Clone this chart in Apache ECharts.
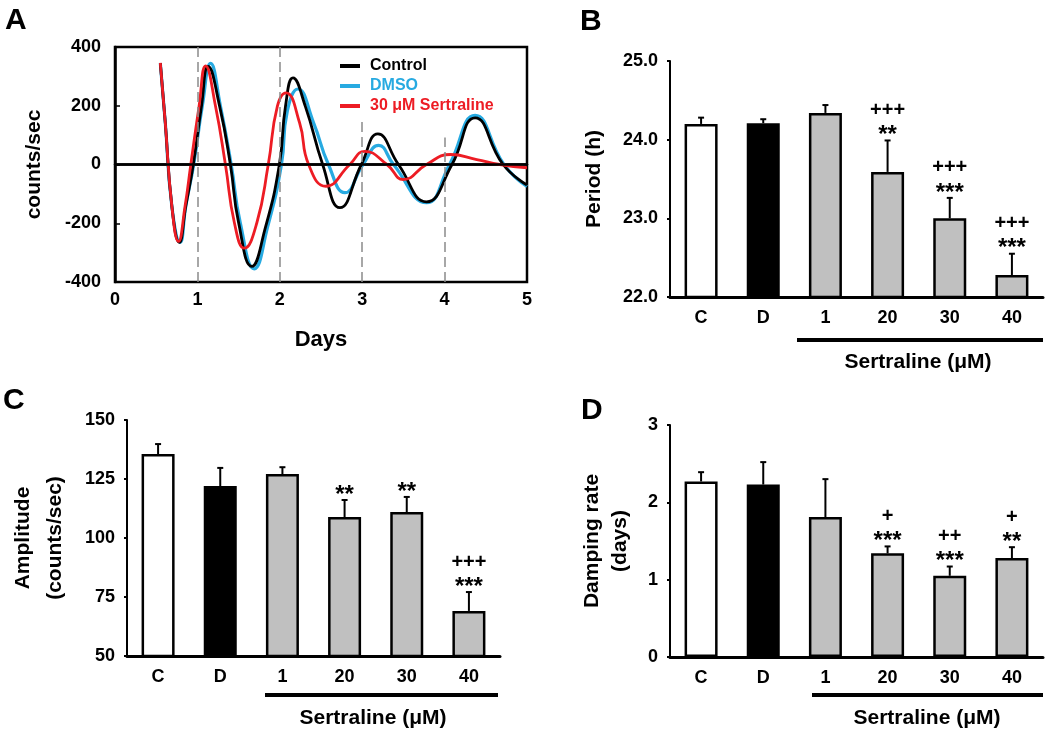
<!DOCTYPE html>
<html>
<head>
<meta charset="utf-8">
<script src="https://cdn.jsdelivr.net/npm/echarts@6/dist/echarts.min.js"></script>
<style>
html,body{margin:0;padding:0;background:#fff;}
#c{width:1050px;height:733px;}
</style>
</head>
<body>
<div id="c"></div>
<script>
// ---------- Panel A data (day, counts/sec) ----------
const ctrlData = [[0.55,345],[0.61,143],[0.69,-142],[0.78,-265],[0.86,-140],[0.95,0],[1.05,200],[1.13,334],[1.27,198],[1.40,0],[1.50,-198],[1.66,-347],[1.82,-220],[1.995,0],[2.07,200],[2.16,295],[2.31,198],[2.52,0],[2.73,-147],[2.99,0],[3.19,104],[3.44,0],[3.78,-127],[4.09,0],[4.37,159],[4.71,0],[5.0,-70]];
const dmsoData = [[0.55,345],[0.61,143],[0.69,-142],[0.79,-265],[0.86,-140],[0.955,0],[1.06,200],[1.16,344],[1.28,198],[1.41,0],[1.52,-198],[1.69,-355],[1.85,-215],[2.02,0],[2.09,180],[2.22,257],[2.41,142],[2.59,0],[2.79,-96],[3.01,0],[3.20,65],[3.38,0],[3.78,-130],[4.06,0],[4.37,167],[4.72,0],[5.0,-75]];
const sertData = [[0.55,346],[0.61,143],[0.69,-142],[0.77,-262],[0.85,-142],[0.92,0],[1.02,198],[1.10,336],[1.22,198],[1.34,0],[1.45,-200],[1.57,-285],[1.72,-200],[1.86,0],[1.97,198],[2.075,244],[2.24,142],[2.35,0],[2.56,-74],[2.85,0],[3.03,45],[3.30,0],[3.50,-51],[3.78,0],[4.07,34],[4.39,17],[4.67,0],[5.0,-11]];
const seriesNames = ['Control','DMSO','30 \u03bcM Sertraline'];
const dashDays = [1,2,3,4];
const dashTops = [400,400,146,92];

// ---------- Bar panels ----------
const barCats = ['C','D','1','20','30','40'];
const periodMean = [24.20,24.21,24.34,23.59,23.00,22.28];
const periodErr  = [0.08,0.05,0.10,0.40,0.26,0.27];
const periodStar = ['','','','**','***','***'];
const periodPlus = ['','','','+++','+++','+++'];

const ampMean = [135.6,122.0,127.1,108.9,111.0,69.1];
const ampErr  = [4.2,7.7,2.9,7.2,6.4,8.0];
const ampStar = ['','','','**','**','***'];
const ampPlus = ['','','','','','+++'];

const dampMean = [2.27,2.23,1.81,1.34,1.05,1.28];
const dampErr  = [0.12,0.29,0.49,0.09,0.12,0.14];
const dampStar = ['','','','***','***','**'];
const dampPlus = ['','','','+','++','+'];

const FONT = '"Liberation Sans", Arial, Helvetica, sans-serif';
const barFill = ['#ffffff','#000000','#c0c0c0','#c0c0c0','#c0c0c0','#c0c0c0'];

const chart = echarts.init(document.getElementById('c'), null, {renderer:'canvas'});

function barData(means){
  return means.map((m,i)=>({value:m, itemStyle:{color:barFill[i]}}));
}
function errData(means, errs){
  return means.map((m,i)=>[i, m, m+errs[i]]);
}
function errRender(stars, pluses){
  return function(params, api){
    const idx = params.dataIndex;
    const i = api.value(0);
    const base = api.coord([i, api.value(1)]);
    const top = api.coord([i, api.value(2)]);
    const x = base[0];
    const ch = [
      {type:'line', shape:{x1:x,y1:base[1],x2:x,y2:top[1]}, style:{stroke:'#000',lineWidth:2}},
      {type:'line', shape:{x1:x-3,y1:top[1],x2:x+3,y2:top[1]}, style:{stroke:'#000',lineWidth:2}}
    ];
    if (stars[idx]) ch.push({type:'text', x:x, y:top[1]-5, style:{text:stars[idx], font:'bold 24px '+FONT, fill:'#000', align:'center', verticalAlign:'middle'}});
    if (pluses[idx]) ch.push({type:'text', x:x, y:top[1]-30, style:{text:pluses[idx], font:'bold 20px '+FONT, fill:'#000', align:'center', verticalAlign:'middle'}});
    return {type:'group', children:ch};
  };
}

const tickLabel = {color:'#000', fontSize:18, fontWeight:'bold', fontFamily:FONT};

function catAxis(gi){
  return {type:'category', gridIndex:gi, data:barCats,
    axisLine:{lineStyle:{color:'#000',width:3}}, axisTick:{show:false},
    axisLabel:Object.assign({margin:12}, tickLabel), splitLine:{show:false}};
}
function valAxis(gi, min, max, interval, name, gap, lh, fmt){
  return {type:'value', gridIndex:gi, min:min, max:max, interval:interval,
    name:name, nameLocation:'middle', nameRotate:90, nameGap:gap,
    nameTextStyle:{color:'#000', fontSize:21, fontWeight:'bold', fontFamily:FONT, lineHeight:lh},
    axisLine:{show:true, lineStyle:{color:'#000',width:2}},
    axisTick:{show:true, length:3, lineStyle:{color:'#000',width:2}},
    axisLabel:Object.assign({margin:12, formatter:fmt}, tickLabel),
    splitLine:{show:false}};
}

const lineCommon = {type:'line', xAxisIndex:0, yAxisIndex:0, showSymbol:false, symbol:'none', smooth:0.5};

const option = {
  animation:false,
  backgroundColor:'#fff',
  legend:{
    left:335, top:52, orient:'vertical', itemWidth:20, itemHeight:4, itemGap:2, icon:'rect',
    data:[
      {name:seriesNames[0], textStyle:{color:'#000'}},
      {name:seriesNames[1], textStyle:{color:'#27aae1'}},
      {name:seriesNames[2], textStyle:{color:'#ed1c24'}}
    ],
    textStyle:{fontSize:16, fontWeight:'bold', fontFamily:FONT, lineHeight:18, padding:[0,0,0,5]}
  },
  grid:[
    {left:115, top:47, width:412, height:235, show:true, borderColor:'#000', borderWidth:2.5, backgroundColor:'transparent'},
    {left:670, top:61, width:373, height:236},
    {left:127, top:420, width:373, height:236},
    {left:670, top:425, width:373, height:232}
  ],
  xAxis:[
    {type:'value', gridIndex:0, min:0, max:5, interval:1, name:'Days', nameLocation:'middle', nameGap:47,
     nameTextStyle:{color:'#000', fontSize:22, fontWeight:'bold', fontFamily:FONT},
     axisLine:{lineStyle:{color:'#000',width:2.5}}, axisTick:{show:false},
     axisLabel:Object.assign({margin:9, formatter:v=>String(v)}, tickLabel), splitLine:{show:false}},
    catAxis(1), catAxis(2), catAxis(3)
  ],
  yAxis:[
    {type:'value', gridIndex:0, min:-400, max:400, interval:200, name:'counts/sec', nameLocation:'middle', nameRotate:90, nameGap:70,
     nameTextStyle:{color:'#000', fontSize:21, fontWeight:'bold', fontFamily:FONT},
     axisLine:{lineStyle:{color:'#000',width:2.5}}, axisTick:{show:true, inside:true, length:5, lineStyle:{color:'#000',width:1.5}},
     axisLabel:Object.assign({margin:14}, tickLabel), splitLine:{show:false}},
    valAxis(1, 22, 25, 1, 'Period (h)', 64, 24, v=>v.toFixed(1)),
    valAxis(2, 50, 150, 25, 'Amplitude\n(counts/sec)', 56, 32, v=>String(v)),
    valAxis(3, 0, 3, 1, 'Damping rate\n(days)', 36, 28, v=>String(v))
  ],
  series:[
    Object.assign({}, lineCommon, {name:seriesNames[1], data:dmsoData, color:'#27aae1', lineStyle:{width:3.2, color:'#27aae1'}, z:2,
      markLine:{silent:true, symbol:['none','none'], label:{show:false},
        data: dashDays.map((d,i)=>[{coord:[d,-400], lineStyle:{color:'#8a8a8a', width:1.5, type:[10,5]}},{coord:[d,dashTops[i]]}])
          .concat([[{coord:[0,0], lineStyle:{color:'#000', width:2.5, type:'solid'}},{coord:[5,0]}]])
      }}),
    Object.assign({}, lineCommon, {name:seriesNames[0], data:ctrlData, color:'#000', lineStyle:{width:2.8, color:'#000'}, z:3}),
    Object.assign({}, lineCommon, {name:seriesNames[2], data:sertData, color:'#ed1c24', lineStyle:{width:2.8, color:'#ed1c24'}, z:4}),

    {type:'bar', xAxisIndex:1, yAxisIndex:1, data:barData(periodMean), barWidth:33, itemStyle:{borderColor:'#000', borderWidth:2.5}},
    {type:'custom', xAxisIndex:1, yAxisIndex:1, data:errData(periodMean, periodErr), renderItem:errRender(periodStar, periodPlus), z:5},
    {type:'bar', xAxisIndex:2, yAxisIndex:2, data:barData(ampMean), barWidth:33, itemStyle:{borderColor:'#000', borderWidth:2.5}},
    {type:'custom', xAxisIndex:2, yAxisIndex:2, data:errData(ampMean, ampErr), renderItem:errRender(ampStar, ampPlus), z:5},
    {type:'bar', xAxisIndex:3, yAxisIndex:3, data:barData(dampMean), barWidth:33, itemStyle:{borderColor:'#000', borderWidth:2.5}},
    {type:'custom', xAxisIndex:3, yAxisIndex:3, data:errData(dampMean, dampErr), renderItem:errRender(dampStar, dampPlus), z:5}
  ],
  graphic:[
    {type:'text', left:5, top:6, style:{text:'A', font:'bold 30px '+FONT, fill:'#000'}},
    {type:'text', left:580, top:7, style:{text:'B', font:'bold 30px '+FONT, fill:'#000'}},
    {type:'text', left:3, top:386, style:{text:'C', font:'bold 30px '+FONT, fill:'#000'}},
    {type:'text', left:581, top:396, style:{text:'D', font:'bold 30px '+FONT, fill:'#000'}},
    {type:'line', shape:{x1:797,y1:340,x2:1043,y2:340}, style:{stroke:'#000', lineWidth:4}},
    {type:'line', shape:{x1:265,y1:695,x2:498,y2:695}, style:{stroke:'#000', lineWidth:4}},
    {type:'line', shape:{x1:812,y1:695,x2:1043,y2:695}, style:{stroke:'#000', lineWidth:4}},
    {type:'text', x:918, y:362, style:{text:'Sertraline (\u03bcM)', font:'bold 21px '+FONT, fill:'#000', align:'center', verticalAlign:'middle'}},
    {type:'text', x:373, y:718, style:{text:'Sertraline (\u03bcM)', font:'bold 21px '+FONT, fill:'#000', align:'center', verticalAlign:'middle'}},
    {type:'text', x:927, y:718, style:{text:'Sertraline (\u03bcM)', font:'bold 21px '+FONT, fill:'#000', align:'center', verticalAlign:'middle'}}
  ]
};
chart.setOption(option);
</script>
</body>
</html>
